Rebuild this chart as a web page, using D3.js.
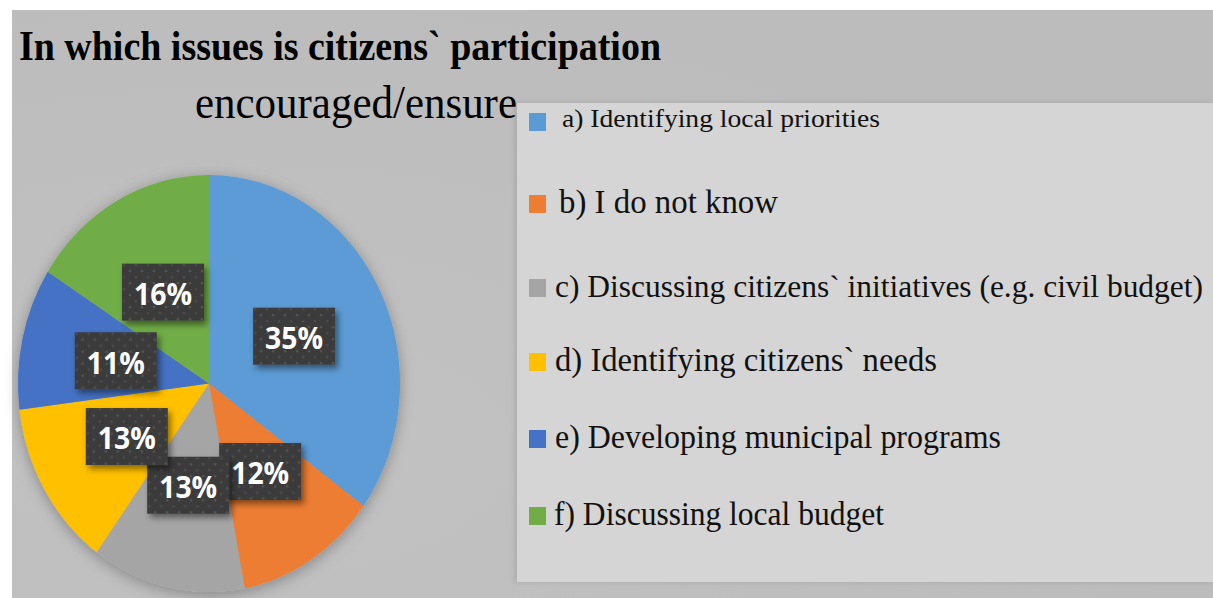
<!DOCTYPE html>
<html>
<head>
<meta charset="utf-8">
<script src="https://cdn.jsdelivr.net/npm/d3@7/dist/d3.min.js"></script>
<style>
  html, body { margin: 0; padding: 0; background: #ffffff; }
  svg { display: block; }
</style>
</head>
<body>
<svg id="chart" width="1213" height="598"></svg>
<script>
// Survey answers: share of respondents per issue
const categories = [
  "a) Identifying local priorities",
  "b) I do not know",
  "c) Discussing citizens` initiatives (e.g. civil budget)",
  "d) Identifying citizens` needs",
  "e) Developing municipal programs",
  "f) Discussing local budget"
];
const values = [35, 12, 13, 13, 11, 16];
const colors = ["#5B9BD5", "#ED7D31", "#A5A5A5", "#FFC000", "#4472C4", "#70AD47"];
const titleLines = ["In which issues is citizens` participation", "encouraged/ensure"];

// Layout
const W = 1213, H = 598;
const cx = 209, cy = 383.5, rx = 191, ry = 208.5;
const legendRows = [127, 213, 297, 371, 448, 525];
const legendTextX = [562, 559, 555, 555, 555, 554];
const legendTextW = [318, 219, 648, 382, 446, 330];
const legendFont = [26, 33, 31, 33, 33, 33];

const svg = d3.select("#chart");
const defs = svg.append("defs");

const pieShadow = defs.append("filter").attr("id", "pieShadow")
  .attr("x", "-20%").attr("y", "-20%").attr("width", "140%").attr("height", "140%");
pieShadow.append("feDropShadow")
  .attr("dx", 0).attr("dy", 3).attr("stdDeviation", 7)
  .attr("flood-color", "#000").attr("flood-opacity", 0.3);

const boxShadow = defs.append("filter").attr("id", "boxShadow")
  .attr("x", "-30%").attr("y", "-30%").attr("width", "160%").attr("height", "160%");
boxShadow.append("feDropShadow")
  .attr("dx", 3).attr("dy", 4).attr("stdDeviation", 3)
  .attr("flood-color", "#000").attr("flood-opacity", 0.45);

const legShadow = defs.append("filter").attr("id", "legShadow")
  .attr("x", "-5%").attr("y", "-5%").attr("width", "110%").attr("height", "110%");
legShadow.append("feDropShadow")
  .attr("dx", -2).attr("dy", 0).attr("stdDeviation", 3)
  .attr("flood-color", "#000").attr("flood-opacity", 0.12);

// dotted texture for the data label boxes
const dots = defs.append("pattern").attr("id", "dots")
  .attr("patternUnits", "userSpaceOnUse").attr("width", 12).attr("height", 12);
dots.append("rect").attr("width", 12).attr("height", 12).attr("fill", "#3b3b3b");
dots.append("circle").attr("cx", 3).attr("cy", 3).attr("r", 1.3).attr("fill", "#555");
dots.append("circle").attr("cx", 9).attr("cy", 9).attr("r", 1.3).attr("fill", "#4d4d4d");

const bgGrad = defs.append("radialGradient").attr("id", "bgGrad")
  .attr("cx", 0.2).attr("cy", 0.75).attr("r", 0.8);
bgGrad.append("stop").attr("offset", "0%").attr("stop-color", "#c2c2c2");
bgGrad.append("stop").attr("offset", "100%").attr("stop-color", "#bcbcbc");

// background panel
svg.append("rect").attr("x", 12).attr("y", 10).attr("width", W - 12).attr("height", H - 10)
  .attr("fill", "url(#bgGrad)");

// legend panel
svg.append("rect").attr("x", 517).attr("y", 103).attr("width", W - 517).attr("height", 479)
  .attr("fill", "#d5d5d5").attr("filter", "url(#legShadow)");

// pie
const pie = d3.pie().sort(null).value(d => d);
const arcs = pie(values);
const arc = d3.arc().innerRadius(0).outerRadius(rx);

const pieG = svg.append("g")
  .attr("transform", `translate(${cx},${cy}) scale(1,${ry / rx})`)
  .attr("filter", "url(#pieShadow)");
pieG.selectAll("path").data(arcs).join("path")
  .attr("d", arc)
  .attr("fill", (d, i) => colors[i]);

// data labels
const boxW = 82, boxH = 57;
const labels = svg.append("g");
const lab = labels.selectAll("g").data(arcs).join("g")
  .attr("transform", d => {
    const [x, y] = arc.centroid(d);
    return `translate(${cx + x},${cy + y * ry / rx})`;
  });
lab.append("rect")
  .attr("x", -boxW / 2).attr("y", -boxH / 2)
  .attr("width", boxW).attr("height", boxH)
  .attr("fill", "url(#dots)")
  .attr("filter", "url(#boxShadow)");
lab.append("text")
  .attr("text-anchor", "middle")
  .attr("dy", "0.36em")
  .attr("y", 2)
  .attr("fill", "#ffffff")
  .attr("font-family", "'Open Sans', sans-serif")
  .attr("font-weight", 700)
  .attr("font-size", 30)
  .attr("textLength", 58).attr("lengthAdjust", "spacingAndGlyphs")
  .text(d => d.data + "%");

// title
svg.append("text")
  .attr("x", 19).attr("y", 60)
  .attr("font-family", "'Liberation Serif', 'Times New Roman', serif")
  .attr("font-weight", 700).attr("font-size", 42)
  .attr("textLength", 642).attr("lengthAdjust", "spacingAndGlyphs")
  .attr("fill", "#000")
  .text(titleLines[0]);
svg.append("text")
  .attr("x", 195).attr("y", 118)
  .attr("font-family", "'Liberation Serif', 'Times New Roman', serif")
  .attr("font-size", 47)
  .attr("textLength", 322).attr("lengthAdjust", "spacingAndGlyphs")
  .attr("fill", "#000")
  .text(titleLines[1]);

// legend
const leg = svg.append("g").selectAll("g").data(categories).join("g");
leg.append("rect")
  .attr("x", 529).attr("y", (d, i) => legendRows[i] - (i === 0 ? 14 : 18))
  .attr("width", 17).attr("height", 18)
  .attr("fill", (d, i) => colors[i]);
leg.append("text")
  .attr("x", (d, i) => legendTextX[i]).attr("y", (d, i) => legendRows[i])
  .attr("font-family", "'Liberation Serif', 'Times New Roman', serif")
  .attr("font-size", (d, i) => legendFont[i])
  .attr("textLength", (d, i) => legendTextW[i]).attr("lengthAdjust", "spacingAndGlyphs")
  .attr("fill", "#111")
  .text(d => d);
</script>
</body>
</html>
